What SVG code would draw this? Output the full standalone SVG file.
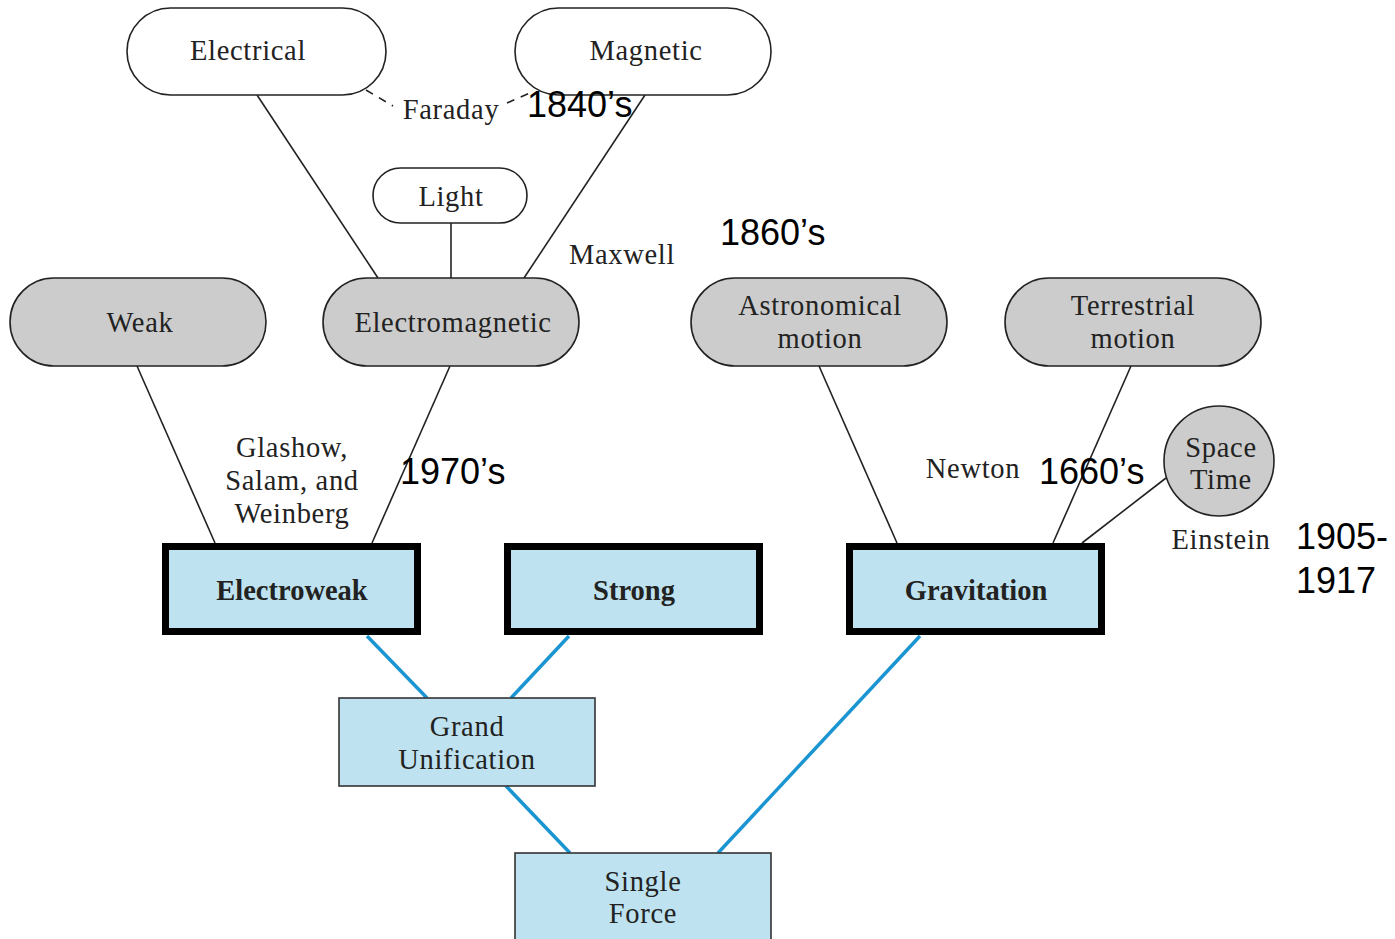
<svg xmlns="http://www.w3.org/2000/svg" width="1395" height="939" viewBox="0 0 1395 939">
<style>
.s{font-family:"Liberation Serif","Times New Roman",serif;font-size:28.5px;letter-spacing:0.7px;fill:#222;text-anchor:middle}
.b{font-weight:bold;letter-spacing:0}
.a{font-family:"Liberation Sans",Arial,sans-serif;font-size:36px;fill:#000}
.w{fill:#fff;stroke:#222;stroke-width:1.6}
.g{fill:#cccccc;stroke:#222;stroke-width:1.6}
.k{fill:#bee2ef;stroke:#000;stroke-width:7}
.t{fill:#bee2ef;stroke:#333;stroke-width:1.6}
.l{stroke:#222;stroke-width:1.6;fill:none}
.bl{stroke:#1b95d2;stroke-width:3.5;fill:none}
.d{stroke:#222;stroke-width:1.6;fill:none;stroke-dasharray:8 7}
</style>
<g id="connectors">
<line class="l" x1="257" y1="95" x2="378" y2="278"/>
<line class="l" x1="645" y1="95" x2="524" y2="278"/>
<line class="l" x1="451" y1="223" x2="451" y2="278"/>
<line class="l" x1="137" y1="366" x2="215" y2="543"/>
<line class="l" x1="450" y1="366" x2="372" y2="543"/>
<line class="l" x1="819" y1="366" x2="897" y2="543"/>
<line class="l" x1="1131" y1="366" x2="1053" y2="543"/>
<line class="l" x1="1166" y1="478" x2="1082" y2="543"/>
<path class="d" d="M366 90 L393 106"/>
<path class="d" d="M507 103 L532 92"/>
<line class="bl" x1="367" y1="636" x2="427" y2="698"/>
<line class="bl" x1="569" y1="636" x2="511" y2="698"/>
<line class="bl" x1="506" y1="786" x2="570" y2="853"/>
<line class="bl" x1="920" y1="636" x2="718" y2="853"/>
</g>
<g id="electrical"><rect class="w" x="127" y="8" width="259" height="87" rx="43.5"/><text class="s" x="248" y="60">Electrical</text></g>
<g id="magnetic"><rect class="w" x="515" y="8" width="256" height="87" rx="43.5"/><text class="s" x="646" y="60">Magnetic</text></g>
<g id="light"><rect class="w" x="373" y="168" width="154" height="55" rx="27.5"/><text class="s" x="451" y="206">Light</text></g>
<g id="weak"><rect class="g" x="10" y="278" width="256" height="88" rx="44"/><text class="s" x="140" y="332">Weak</text></g>
<g id="electromagnetic"><rect class="g" x="323" y="278" width="256" height="88" rx="44"/><text class="s" x="453" y="332">Electromagnetic</text></g>
<g id="astronomical"><rect class="g" x="691" y="278" width="256" height="88" rx="44"/><text class="s" x="820" y="315">Astronomical</text><text class="s" x="820" y="348">motion</text></g>
<g id="terrestrial"><rect class="g" x="1005" y="278" width="256" height="88" rx="44"/><text class="s" x="1133" y="315">Terrestrial</text><text class="s" x="1133" y="348">motion</text></g>
<g id="spacetime"><ellipse class="g" cx="1219" cy="461" rx="55" ry="55"/><text class="s" x="1221" y="457">Space</text><text class="s" x="1221" y="489">Time</text></g>
<g id="electroweak"><rect class="k" x="165.5" y="546.5" width="252" height="85"/><text class="s b" x="292" y="600">Electroweak</text></g>
<g id="strong"><rect class="k" x="507.5" y="546.5" width="252" height="85"/><text class="s b" x="634" y="600">Strong</text></g>
<g id="gravitation"><rect class="k" x="849.5" y="546.5" width="252" height="85"/><text class="s b" x="976" y="600">Gravitation</text></g>
<g id="grand"><rect class="t" x="339" y="698" width="256" height="88"/><text class="s" x="467" y="736">Grand</text><text class="s" x="467" y="769">Unification</text></g>
<g id="single"><rect class="t" x="515" y="853" width="256" height="95"/><text class="s" x="643" y="891">Single</text><text class="s" x="643" y="923">Force</text></g>
<g id="labels">
<text class="s" x="451" y="119">Faraday</text>
<text class="s" x="622" y="264">Maxwell</text>
<text class="s" x="292" y="457">Glashow,</text>
<text class="s" x="292" y="490">Salam, and</text>
<text class="s" x="292" y="523">Weinberg</text>
<text class="s" x="973" y="478">Newton</text>
<text class="s" x="1221" y="549">Einstein</text>
<text class="a" x="527" y="117">1840’s</text>
<text class="a" x="720" y="245">1860’s</text>
<text class="a" x="400" y="484">1970’s</text>
<text class="a" x="1039" y="484">1660’s</text>
<text class="a" x="1296" y="549">1905-</text>
<text class="a" x="1296" y="593">1917</text>
</g>
</svg>
